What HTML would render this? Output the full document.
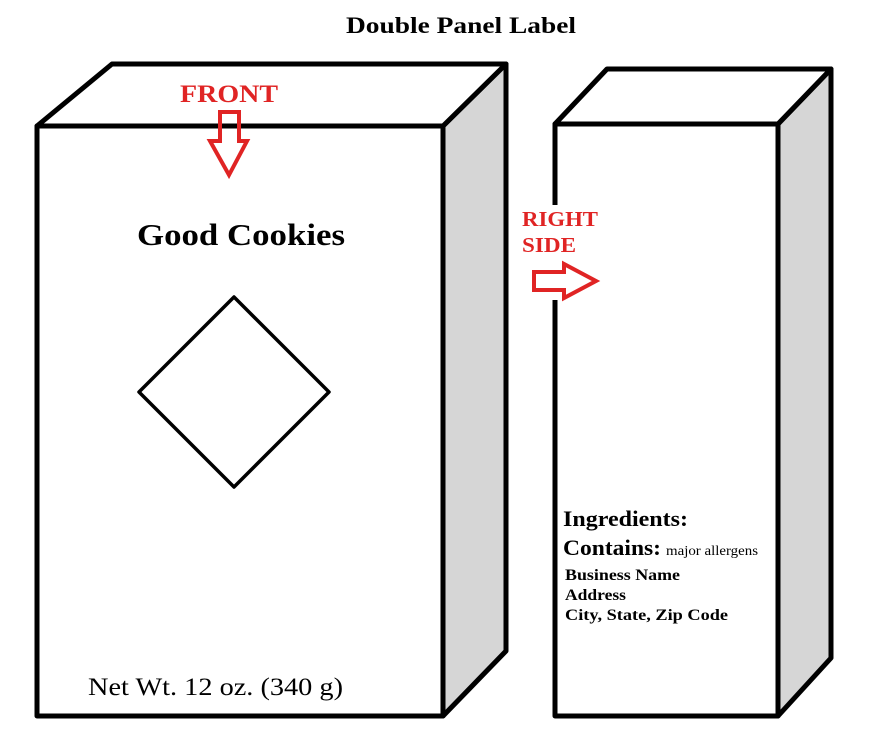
<!DOCTYPE html>
<html><head><style>body{margin:0;background:#fff}svg{display:block}</style></head>
<body>
<svg width="878" height="747" viewBox="0 0 878 747" xmlns="http://www.w3.org/2000/svg" font-family="'Liberation Serif',serif">
<text x="346" y="33" font-size="23" font-weight="bold" textLength="230" lengthAdjust="spacingAndGlyphs">Double Panel Label</text>
<g stroke="#000" stroke-width="5" stroke-linejoin="round">
<polygon points="443,126 506,64 506,651 443,716" fill="#d6d6d6"/>
<polygon points="37,126 112,64 506,64 443,126" fill="#fff"/>
<rect x="37" y="126" width="406" height="590" fill="#fff"/>
<polygon points="139,392 234,297 329,392 234,487" fill="#fff" stroke-width="3.5"/>
<polygon points="778,124 831,69 831,658 778,716" fill="#d6d6d6"/>
<polygon points="555,124 607,69 831,69 778,124" fill="#fff"/>
<polyline points="555,205 555,124 778,124 778,716 555,716 555,300" fill="#fff"/>
</g>
<text x="137" y="245" font-size="31" font-weight="bold" textLength="208" lengthAdjust="spacingAndGlyphs">Good Cookies</text>
<text x="88" y="695" font-size="25" textLength="255" lengthAdjust="spacingAndGlyphs">Net Wt. 12 oz. (340 g)</text>
<text x="180" y="102" font-size="25" font-weight="bold" fill="#e02424" textLength="98" lengthAdjust="spacingAndGlyphs">FRONT</text>
<polygon points="220,112 239,112 239,141 247,141 229,175 210,141 220,141" fill="none" stroke="#e02424" stroke-width="4"/>
<text x="522" y="226" font-size="21" font-weight="bold" fill="#e02424" textLength="76" lengthAdjust="spacingAndGlyphs">RIGHT</text>
<text x="522" y="252" font-size="21" font-weight="bold" fill="#e02424" textLength="54" lengthAdjust="spacingAndGlyphs">SIDE</text>
<polygon points="534,272 564,272 564,264 596,281 564,298 564,290 534,290" fill="none" stroke="#e02424" stroke-width="4"/>
<g font-weight="bold">
<text x="563" y="526" font-size="22" textLength="125" lengthAdjust="spacingAndGlyphs">Ingredients:</text>
<text x="563" y="555" font-size="22" textLength="98" lengthAdjust="spacingAndGlyphs">Contains:</text>
<text x="666" y="555" font-size="14" font-weight="normal" textLength="92" lengthAdjust="spacingAndGlyphs">major allergens</text>
<text x="565" y="580" font-size="16" textLength="115" lengthAdjust="spacingAndGlyphs">Business Name</text>
<text x="565" y="600" font-size="16" textLength="61" lengthAdjust="spacingAndGlyphs">Address</text>
<text x="565" y="620" font-size="16" textLength="163" lengthAdjust="spacingAndGlyphs">City, State, Zip Code</text>
</g>
</svg>
</body></html>
